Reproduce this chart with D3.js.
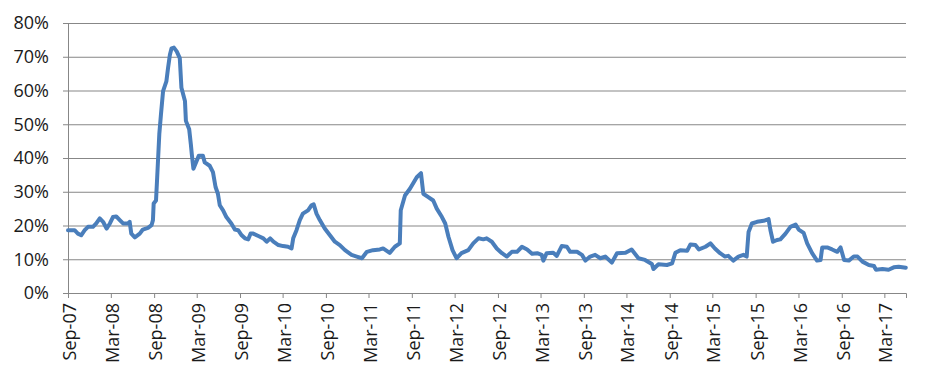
<!DOCTYPE html>
<html>
<head>
<meta charset="utf-8">
<script src="https://cdn.jsdelivr.net/npm/d3@7"></script>
<style>
  body { margin: 0; background: #fff; }
  svg text { font-family: "Open Sans", "Noto Sans", sans-serif; fill: #1a1a1a; }
</style>
</head>
<body>
<div id="chart"></div>
<script>
// values (percent)
var dates = [
  "2007-09-01","2007-09-29","2007-10-13","2007-10-27","2007-11-11","2007-11-25","2007-12-16","2007-12-30",
  "2008-01-14","2008-01-28","2008-02-12","2008-02-26","2008-03-10","2008-03-24","2008-04-08","2008-04-22",
  "2008-05-13","2008-05-20","2008-05-27","2008-06-11","2008-07-02","2008-07-15","2008-08-06","2008-08-21",
  "2008-08-27","2008-08-30","2008-09-09","2008-09-14","2008-09-23","2008-09-30","2008-10-09","2008-10-23",
  "2008-10-30","2008-11-07","2008-11-14","2008-11-24","2008-12-06","2008-12-19","2008-12-26","2009-01-10",
  "2009-01-14","2009-01-28","2009-02-04","2009-02-08","2009-02-15","2009-03-01","2009-03-10","2009-03-27",
  "2009-04-04","2009-04-25","2009-05-09","2009-05-20","2009-05-30","2009-06-07","2009-06-21","2009-07-05",
  "2009-07-26","2009-08-10","2009-08-24","2009-09-08","2009-09-22","2009-10-06","2009-10-16","2009-10-27",
  "2009-11-18","2009-12-09","2009-12-23","2010-01-07","2010-01-21","2010-02-11","2010-03-03","2010-03-24",
  "2010-04-08","2010-04-15","2010-04-29","2010-05-13","2010-05-26","2010-06-17","2010-07-02","2010-07-11",
  "2010-07-23","2010-08-06","2010-08-27","2010-09-18","2010-10-09","2010-10-30","2010-11-21","2010-12-19",
  "2011-01-10","2011-02-01","2011-02-22","2011-03-20","2011-04-18","2011-05-02","2011-05-30","2011-06-21",
  "2011-07-12","2011-07-16","2011-08-03","2011-08-24","2011-09-22","2011-10-10","2011-10-20","2011-11-10",
  "2011-12-01","2011-12-16","2012-01-07","2012-01-21","2012-02-04","2012-02-21","2012-03-09","2012-03-30",
  "2012-04-28","2012-05-19","2012-06-10","2012-07-01","2012-07-15","2012-08-06","2012-08-27","2012-09-18",
  "2012-10-09","2012-10-30","2012-11-21","2012-12-12","2013-01-03","2013-01-24","2013-02-15","2013-03-06",
  "2013-03-13","2013-03-27","2013-04-24","2013-05-09","2013-05-30","2013-06-21","2013-07-05","2013-08-03",
  "2013-08-24","2013-09-08","2013-09-28","2013-10-19","2013-11-10","2013-12-01","2013-12-29","2014-01-20",
  "2014-02-25","2014-03-23","2014-04-21","2014-05-19","2014-06-17","2014-06-24","2014-07-15","2014-08-20",
  "2014-09-11","2014-09-25","2014-10-16","2014-11-14","2014-11-28","2014-12-19","2015-01-03","2015-01-31",
  "2015-02-21","2015-03-12","2015-04-03","2015-04-24","2015-05-08","2015-05-29","2015-06-20","2015-07-11",
  "2015-07-25","2015-08-02","2015-08-16","2015-09-07","2015-10-05","2015-10-26","2015-11-03","2015-11-14",
  "2015-12-01","2015-12-15","2016-01-06","2016-01-27","2016-02-18","2016-03-02","2016-03-23","2016-04-07",
  "2016-04-28","2016-05-19","2016-06-03","2016-06-10","2016-07-01","2016-07-22","2016-08-13","2016-08-27",
  "2016-09-11","2016-10-01","2016-10-22","2016-11-07","2016-11-28","2016-12-25","2017-01-16","2017-01-24",
  "2017-02-21","2017-03-19","2017-04-10","2017-05-01","2017-05-31"
];
var values = [
  18.6,18.6,17.6,17.1,18.6,19.6,19.6,20.6,
  22.1,21.1,19.1,20.6,22.5,22.7,21.6,20.6,
  20.6,21.1,17.6,16.5,17.6,18.8,19.3,20.1,
  21.6,26.5,27.4,34.3,47.1,52.9,59.8,62.7,
  66.6,70.6,72.5,72.7,71.6,69.6,60.8,56.9,
  51.0,48.5,44.1,41.2,36.8,39.2,40.7,40.7,
  38.7,37.7,35.8,31.4,29.4,26.0,24.5,22.5,
  20.6,18.8,18.6,17.1,16.2,15.9,17.6,17.6,
  16.9,16.2,15.2,16.2,15.2,14.2,13.9,13.7,
  13.2,16.2,18.6,21.6,23.5,24.5,26.0,26.3,
  23.5,21.6,19.1,17.1,15.2,14.2,12.7,11.3,
  10.8,10.3,12.2,12.7,12.9,13.2,11.9,13.7,
  14.7,24.5,28.9,30.9,34.3,35.5,29.4,28.4,
  27.4,25.0,22.5,20.6,16.6,12.7,10.3,11.8,
  12.7,14.7,16.2,15.9,16.2,15.2,13.2,11.8,
  10.8,12.2,12.2,13.7,12.9,11.6,11.8,11.3,
  9.6,11.8,11.9,11.0,13.9,13.7,12.2,12.2,
  11.3,9.6,10.8,11.3,10.3,10.8,9.0,11.8,
  11.9,12.9,10.3,9.8,8.6,7.1,8.5,8.3,
  8.8,11.9,12.7,12.5,14.4,14.2,12.9,13.7,
  14.7,13.2,11.8,10.8,11.0,9.6,10.8,11.3,
  10.8,18.1,20.6,21.1,21.4,21.9,18.6,15.2,
  15.7,15.9,17.6,19.6,20.3,18.8,17.8,14.7,
  11.8,9.6,9.8,13.5,13.5,12.9,12.2,13.5,
  9.8,9.6,10.8,10.8,9.3,8.3,8.0,6.9,
  7.1,6.9,7.6,7.8,7.5
];
var xLabels = ["Sep-07","Mar-08","Sep-08","Mar-09","Sep-09","Mar-10","Sep-10","Mar-11","Sep-11",
  "Mar-12","Sep-12","Mar-13","Sep-13","Mar-14","Sep-14","Mar-15","Sep-15","Mar-16","Sep-16","Mar-17"];
var yTicks = [0, 10, 20, 30, 40, 50, 60, 70, 80];

var margin = {top: 23, right: 22, bottom: 90, left: 68};
var W = 928, H = 383;
var width = W - margin.left - margin.right,
    height = H - margin.top - margin.bottom;

var parseDay = d3.timeParse("%Y-%m-%d"),
    parseLabel = d3.timeParse("%b-%y");

var data = dates.map(function(d, i) { return {date: parseDay(d), value: values[i]}; });

var x = d3.scaleTime()
    .domain([parseDay("2007-09-01"), parseDay("2017-06-01")])
    .range([0, width]);
var y = d3.scaleLinear()
    .domain([0, 80])
    .range([height, 0]);

var svg = d3.select('#chart').append('svg')
    .attr('width', W)
    .attr('height', H)
  .append('g')
    .attr('transform', 'translate(' + margin.left + ',' + margin.top + ')');

// horizontal gridlines
var grid = svg.append('g')
    .call(d3.axisLeft(y).tickValues(yTicks).tickSize(-width).tickFormat(''));
grid.select('.domain').remove();
grid.selectAll('line').style('stroke', '#878787').style('stroke-width', 1);

// y axis
var yAxis = svg.append('g')
    .call(d3.axisLeft(y).tickValues(yTicks).tickSize(5).tickPadding(14)
      .tickFormat(function(d) { return d + '%'; }));
yAxis.selectAll('path, line').style('stroke', '#878787');
yAxis.selectAll('text').style('font-size', '18px').style('fill', '#1a1a1a');

// x axis
var xAxis = svg.append('g')
    .attr('transform', 'translate(0,' + height + ')')
    .call(d3.axisBottom(x).tickValues(xLabels.map(parseLabel)).tickSize(5)
      .tickFormat(d3.timeFormat("%b-%y")));
xAxis.selectAll('path, line').style('stroke', '#878787');
xAxis.selectAll('text')
    .style('font-size', '18px')
    .style('fill', '#1a1a1a')
    .style('text-anchor', 'end')
    .attr('transform', 'rotate(-90)')
    .attr('x', -10)
    .attr('y', 0)
    .attr('dy', '0.42em');

// series line
var line = d3.line()
    .x(function(d) { return x(d.date); })
    .y(function(d) { return y(d.value); });

svg.append('path')
    .datum(data)
    .attr('d', line)
    .style('fill', 'none')
    .style('stroke', '#4a7ebb')
    .style('stroke-width', 4)
    .style('stroke-linejoin', 'round')
    .style('stroke-linecap', 'round');
</script>
</body>
</html>
